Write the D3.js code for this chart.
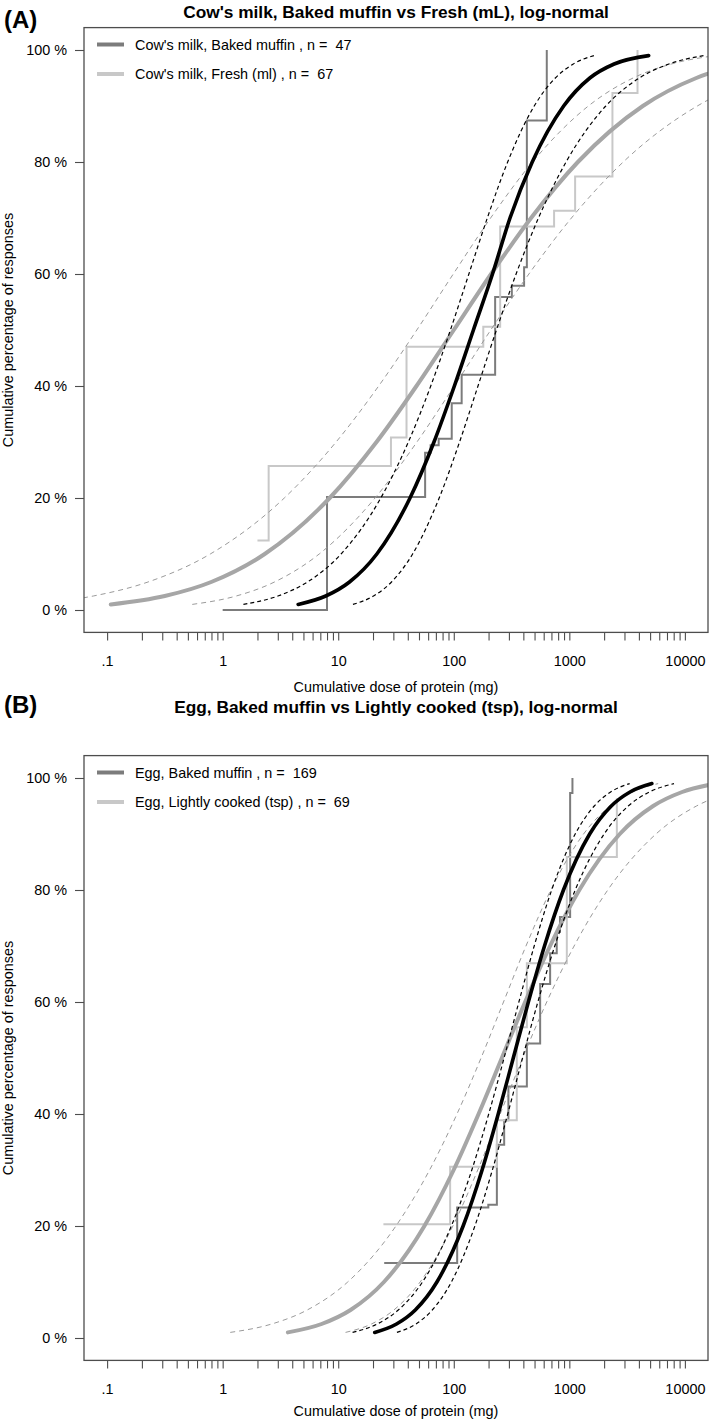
<!DOCTYPE html>
<html><head><meta charset="utf-8">
<script src="https://cdn.jsdelivr.net/npm/d3@7"></script>
<style>
body{margin:0;background:#fff}
svg{display:block;font-family:"Liberation Sans",Arial,Helvetica,sans-serif}
</style></head><body>
<svg id="chart" width="709" height="1421"></svg>
<script>
// ---------- shared axis data ----------
const xTickValues = [0.1, 1, 10, 100, 1000, 10000];
const xTickLabels = [".1", "1", "10", "100", "1000", "10000"];
const yTickValues = [0, 20, 40, 60, 80, 100];
const yTickLabels = ["0 %", "20 %", "40 %", "60 %", "80 %", "100 %"];
const xAxisTitle = "Cumulative dose of protein (mg)";
const yAxisTitle = "Cumulative percentage of responses";
// cumulative % at which every fitted / band curve is sampled
const percentiles = [1, 2.5, 5, 10, 20, 30, 40, 50, 60, 70, 80, 90, 95, 97.5, 99];

// ---------- Panel A : Cow's milk ----------
const panelLabelA = "(A)";
const titleA = "Cow's milk, Baked muffin vs Fresh (mL), log-normal";
const legendA = ["Cow's milk, Baked muffin , n =  47", "Cow's milk, Fresh (ml) , n =  67"];
// step functions: [dose mg, cumulative %]
const stepsA_baked = [[1,0],[8,20.2],[56.5,28.1],[63,29.4],[74,30.6],[96,36.9],[117,42.0],[228,55.9],[318,57.9],[406,61.2],[429,87.4],[638,100]];
const stepsA_fresh = [[2,12.4],[2.5,25.7],[28.6,30.8],[39,47.0],[180,50.6],[252,68.5],[738,71.3],[1122,77.4],[2361,92.3],[3890,100]];
// doses (mg) at the percentiles above
const fitA_baked   = [4.50, 7.80, 12.52, 21.58, 41.8, 67.4, 101.2, 147.9, 216.3, 306.6, 477.6, 893.2, 1505, 2443, 4860];
const ciA_baked_lo = [1.512, 3.009, 5.418, 10.58, 23.35, 40.46, 63.19, 93.54, 135.1, 195.1, 292.6, 496.8, 756.6, 1082, 1631];
const ciA_baked_hi = [13.41, 20.22, 28.91, 44.03, 74.76, 112.2, 162.0, 233.9, 346.2, 540.7, 936.9, 2068, 4037, 7271, 14480];
const fitA_fresh   = [0.1076, 0.3155, 0.7962, 2.312, 8.433, 21.45, 47.56, 100, 210.3, 466.3, 1186, 4325, 12560, 31700, 92900];
const ciA_fresh_lo = [0.02124, 0.07595, 0.2258, 0.7809, 3.416, 9.583, 22.39, 47.86, 99.0, 208.3, 480.3, 1461, 3561, 7629, 18330];
const ciA_fresh_hi = [0.5455, 1.311, 2.808, 6.846, 20.82, 48.01, 101.0, 208.9, 446.7, 1043, 2927, 12810, 44300, 131800, 470860];

// ---------- Panel B : Egg ----------
const panelLabelB = "(B)";
const titleB = "Egg, Baked muffin vs Lightly cooked (tsp), log-normal";
const legendB = ["Egg, Baked muffin , n =  169", "Egg, Lightly cooked (tsp) , n =  69"];
const stepsB_baked = [[25,13.4],[107,23.3],[199,23.8],[236,34.5],[273,38.9],[297,44.9],[429,52.6],[559,63.2],[682,68.7],[778,72.5],[830,75.2],[1016,97.3],[1064,100]];
const stepsB_light = [[24.6,20.3],[93,30.6],[236,38.9],[351,55.5],[429,66.9],[951,85.9],[2578,96.4]];
const fitB_baked   = [20.70, 31.96, 46.45, 71.46, 120.5, 175.8, 242.5, 327.3, 441.9, 609.6, 889.4, 1500, 2307, 3352, 5176];
const ciB_baked_lo = [13.31, 21.73, 33.11, 53.58, 95.28, 143.2, 200.6, 272.3, 365.9, 496.6, 703.4, 1124, 1644, 2280, 3327];
const ciB_baked_hi = [32.20, 46.99, 65.16, 95.32, 152.3, 215.8, 293.0, 393.6, 534.1, 748.5, 1125, 2000, 3236, 4930, 8053];
const fitB_light   = [3.668, 7.174, 12.78, 24.86, 55.69, 99.75, 163.9, 260.6, 414.4, 681.0, 1220, 2732, 5314, 9467, 18510];
const ciB_light_lo = [1.163, 2.657, 5.390, 12.08, 31.57, 61.75, 106.6, 172.2, 269.4, 421.5, 691.4, 1328, 2241, 3506, 5871];
const ciB_light_hi = [11.57, 19.37, 30.31, 51.14, 98.24, 161.2, 252.1, 394.5, 637.4, 1100, 2151, 5621, 12600, 25560, 58380];

// ---------- styles ----------
const C = {
  box: "#4d4d4d", darkStep: "#7c7c7c", lightStep: "#c8c8c8",
  grayFit: "#a6a6a6", grayDash: "#9a9a9a", black: "#000"
};

const svg = d3.select("#chart");
const plotLeft = 84, plotRight = 708;

function drawPanel(cfg) {
  const g = svg.append("g");
  const top = cfg.boxTop, bottom = cfg.boxBottom;
  const x = d3.scaleLog().domain([Math.pow(10,-1.2), Math.pow(10,4.2)]).range([plotLeft, plotRight]);
  const y = d3.scaleLinear().domain([-4, 104]).range([bottom, top]);

  const clipId = "clip" + cfg.id;
  svg.append("clipPath").attr("id", clipId).append("rect")
    .attr("x", plotLeft).attr("y", top).attr("width", plotRight - plotLeft).attr("height", bottom - top);

  // titles
  g.append("text").attr("x", 4).attr("y", cfg.labelY).attr("font-size", 24).attr("font-weight", "bold")
    .attr("fill", "#000").text(cfg.panelLabel);
  g.append("text").attr("x", (plotLeft + plotRight) / 2).attr("y", cfg.titleY).attr("text-anchor", "middle")
    .attr("font-size", 17.3).attr("font-weight", "bold").attr("fill", "#000").text(cfg.title);

  // x axis
  const minor = [];
  for (let e = -1; e < 4; e++) for (let k = 2; k <= 9; k++) minor.push(k * Math.pow(10, e));
  const xAxisMinor = d3.axisBottom(x).tickValues(minor).tickSize(8).tickFormat("");
  const xAxisMajor = d3.axisBottom(x).tickValues(xTickValues).tickSize(8).tickPadding(15)
    .tickFormat((d, i) => xTickLabels[i]);
  const gxm = g.append("g").attr("transform", `translate(0,${bottom})`).call(xAxisMinor);
  const gx = g.append("g").attr("transform", `translate(0,${bottom})`).call(xAxisMajor);
  [gx, gxm].forEach(a => {
    a.select(".domain").remove();
    a.selectAll("line").attr("stroke", C.box).attr("stroke-width", 1.1);
  });
  gx.selectAll("text").attr("font-size", 14.4).attr("fill", "#000").attr("font-family", "Liberation Sans, Arial, sans-serif");

  // y axis
  const yAxis = d3.axisLeft(y).tickValues(yTickValues).tickSize(9).tickPadding(8)
    .tickFormat((d, i) => yTickLabels[i]);
  const gy = g.append("g").attr("transform", `translate(${plotLeft},0)`).call(yAxis);
  gy.select(".domain").remove();
  gy.selectAll("line").attr("stroke", C.box).attr("stroke-width", 1.1);
  gy.selectAll("text").attr("font-size", 14.4).attr("fill", "#000").attr("font-family", "Liberation Sans, Arial, sans-serif")
    .style("white-space", "pre");

  // axis titles
  g.append("text").attr("x", (plotLeft + plotRight) / 2).attr("y", bottom + cfg.xTitleGap).attr("text-anchor", "middle")
    .attr("font-size", 14.4).attr("fill", "#000").text(xAxisTitle);
  g.append("text").attr("transform", `translate(13,${y(50)}) rotate(-90)`).attr("text-anchor", "middle")
    .attr("font-size", 14.4).attr("fill", "#000").text(yAxisTitle);

  // plotting area
  const pg = g.append("g").attr("clip-path", `url(#${clipId})`);
  const stepLine = d3.line().x(d => x(d[0])).y(d => y(d[1])).curve(d3.curveStepAfter);
  const smooth = d3.line().x(d => x(d[0])).y(d => y(d[1])).curve(d3.curveMonotoneX);
  const pts = arr => arr.map((v, i) => [v, percentiles[i]]);

  pg.append("path").attr("d", stepLine(cfg.stepsDark)).attr("fill", "none")
    .attr("stroke", C.darkStep).attr("stroke-width", 2);
  pg.append("path").attr("d", stepLine(cfg.stepsLight)).attr("fill", "none")
    .attr("stroke", C.lightStep).attr("stroke-width", 2);

  [cfg.grayLo, cfg.grayHi].forEach(a => pg.append("path").attr("d", smooth(pts(a))).attr("fill", "none")
    .attr("stroke", C.grayDash).attr("stroke-width", 1).attr("stroke-dasharray", "5,4"));
  pg.append("path").attr("d", smooth(pts(cfg.grayFit))).attr("fill", "none")
    .attr("stroke", C.grayFit).attr("stroke-width", 4).attr("stroke-linecap", "round");
  [cfg.blackLo, cfg.blackHi].forEach(a => pg.append("path").attr("d", smooth(pts(a))).attr("fill", "none")
    .attr("stroke", C.black).attr("stroke-width", 1.2).attr("stroke-dasharray", "4,3"));
  pg.append("path").attr("d", smooth(pts(cfg.blackFit))).attr("fill", "none")
    .attr("stroke", C.black).attr("stroke-width", 3.6).attr("stroke-linecap", "round");

  // box
  g.append("rect").attr("x", plotLeft).attr("y", top).attr("width", plotRight - plotLeft).attr("height", bottom - top)
    .attr("fill", "none").attr("stroke", C.box).attr("stroke-width", 1.3);

  // legend
  const legCol = [C.darkStep, C.lightStep];
  cfg.legend.forEach((t, i) => {
    const ly = y(100) - 5.5 + i * 29.5;
    g.append("line").attr("x1", 97).attr("x2", 124).attr("y1", ly).attr("y2", ly)
      .attr("stroke", legCol[i]).attr("stroke-width", 4);
    g.append("text").attr("x", 135).attr("y", ly).attr("dy", "0.35em").attr("font-size", 14.4)
      .attr("fill", "#000").style("white-space", "pre").text(t);
  });
}

drawPanel({
  id: "A", boxTop: 27.6, boxBottom: 632.4, titleY: 18, labelY: 28, xTitleGap: 60,
  panelLabel: panelLabelA, title: titleA, legend: legendA,
  stepsDark: stepsA_baked, stepsLight: stepsA_fresh,
  blackFit: fitA_baked, blackLo: ciA_baked_lo, blackHi: ciA_baked_hi,
  grayFit: fitA_fresh, grayLo: ciA_fresh_lo, grayHi: ciA_fresh_hi
});
drawPanel({
  id: "B", boxTop: 755.6, boxBottom: 1360.4, titleY: 713, labelY: 713, xTitleGap: 55.5,
  panelLabel: panelLabelB, title: titleB, legend: legendB,
  stepsDark: stepsB_baked, stepsLight: stepsB_light,
  blackFit: fitB_baked, blackLo: ciB_baked_lo, blackHi: ciB_baked_hi,
  grayFit: fitB_light, grayLo: ciB_light_lo, grayHi: ciB_light_hi
});
</script>
</body></html>
